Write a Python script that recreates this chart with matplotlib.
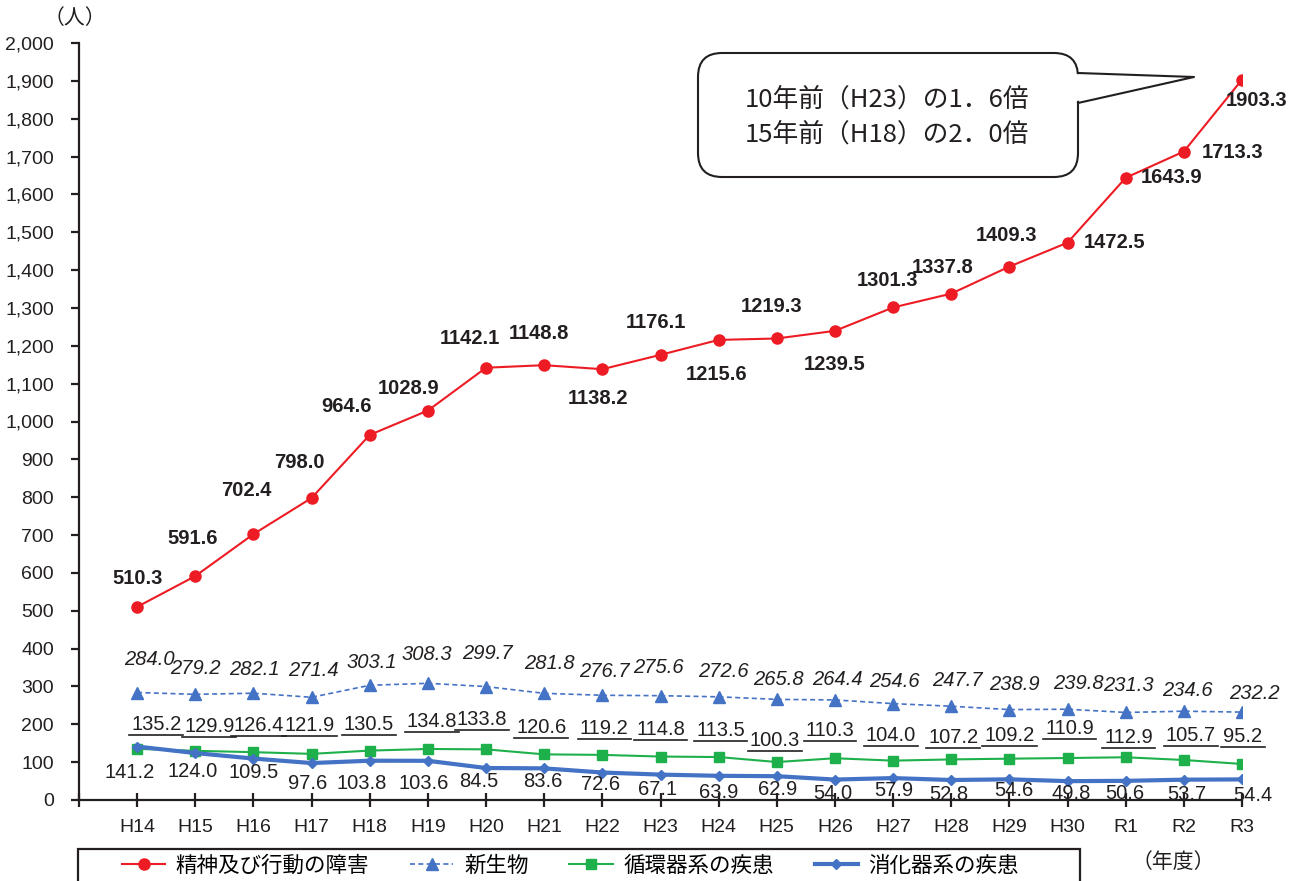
import matplotlib
matplotlib.use('Agg')
import matplotlib.pyplot as plt
from matplotlib.patches import FancyBboxPatch, Polygon, Rectangle
from matplotlib.lines import Line2D
from matplotlib.transforms import IdentityTransform
from matplotlib.ticker import FuncFormatter, FixedLocator

plt.rcParams['font.family'] = ['Liberation Sans', 'Noto Sans CJK JP']

W, H = 1298, 881

years = ['H14', 'H15', 'H16', 'H17', 'H18', 'H19', 'H20', 'H21', 'H22', 'H23',
         'H24', 'H25', 'H26', 'H27', 'H28', 'H29', 'H30', 'R1', 'R2', 'R3']
mental = [510.3, 591.6, 702.4, 798.0, 964.6, 1028.9, 1142.1, 1148.8, 1138.2, 1176.1,
          1215.6, 1219.3, 1239.5, 1301.3, 1337.8, 1409.3, 1472.5, 1643.9, 1713.3, 1903.3]
neoplasm = [284.0, 279.2, 282.1, 271.4, 303.1, 308.3, 299.7, 281.8, 276.7, 275.6,
            272.6, 265.8, 264.4, 254.6, 247.7, 238.9, 239.8, 231.3, 234.6, 232.2]
circulatory = [135.2, 129.9, 126.4, 121.9, 130.5, 134.8, 133.8, 120.6, 119.2, 114.8,
               113.5, 100.3, 110.3, 104.0, 107.2, 109.2, 110.9, 112.9, 105.7, 95.2]
digestive = [141.2, 124.0, 109.5, 97.6, 103.8, 103.6, 84.5, 83.6, 72.6, 67.1,
             63.9, 62.9, 54.0, 57.9, 52.8, 54.6, 49.8, 50.6, 53.7, 54.4]

names = ['精神及び行動の障害', '新生物', '循環器系の疾患', '消化器系の疾患']

# label offsets (pixels, dy up)
mental_off = [(0, 28), (-3, 38), (-7, 44), (-12, 35), (-23, 28), (-19, 22), (-16, 29),
              (-5, 32), (-4, -29), (-5, 32), (-2, -35), (-5, 32), (0, -34), (-6, 27),
              (-9, 26), (-3, 31), (47, 0), (46, 0), (49, -1), (15, -21)]
neo_off = [(12, 33), (0, 26), (1, 24), (2, 27), (2, 23), (-1, 29), (1, 33), (5, 30),
           (2, 24), (-2, 28), (5, 25), (2, 20), (2, 20), (1, 22), (6, 26), (5, 25),
           (11, 26), (3, 27), (4, 21), (12, 19)]
circ_off = [(19, 24), (14, 24), (5, 27), (-2, 28), (-1, 26), (4, 27), (-4, 30), (-3, 27),
            (2, 26), (0, 27), (2, 27), (-2, 22), (-5, 28), (-2, 25), (2, 22), (0, 23),
            (2, 30), (3, 20), (7, 24), (1, 27)]
dig_off = [(-8, -26), (-3, -18), (0, -14), (-4, -20), (-8, -23), (-4, -23), (-7, -13),
           (-1, -13), (-2, -12), (-3, -15), (0, -17), (1, -13), (-2, -14), (1, -12),
           (-2, -14), (4, -11), (4, -12), (-1, -13), (3, -15), (11, -16)]

RED = '#ED1C24'
BLUE = '#4472C4'
GREEN = '#1DB04B'
TXT = '#231F20'
JP = ['Noto Sans CJK JP', 'DejaVu Sans']

fig = plt.figure(figsize=(W / 100, H / 100), dpi=100)
ax = fig.add_axes([79 / W, 1 - 800 / H, (1242 - 79) / W, (800 - 43) / H])

x = list(range(len(years)))
ax.plot(x, mental, color=RED, lw=1.5, marker='o', ms=8, zorder=3)
ax.plot(x, neoplasm, color=BLUE, lw=1.2, ls=(0, (3, 2)), marker='^', ms=9, zorder=3)
ax.plot(x, circulatory, color=GREEN, lw=1.5, marker='s', ms=7.5, zorder=4)
ax.plot(x, digestive, color=BLUE, lw=3, marker='D', ms=5.5, zorder=5)

green_labels = []
for i in x:
    ax.annotate(f'{mental[i]:.1f}', (i, mental[i]), xytext=mental_off[i],
                textcoords='offset pixels', ha='center', va='center',
                fontsize=14.5, fontweight='bold', color=TXT,
                annotation_clip=False, zorder=6)
    ax.annotate(f'{neoplasm[i]:.1f}', (i, neoplasm[i]), xytext=neo_off[i],
                textcoords='offset pixels', ha='center', va='center',
                fontsize=14.5, fontstyle='italic', color=TXT,
                annotation_clip=False, zorder=6)
    t = ax.annotate(f'{circulatory[i]:.1f}', (i, circulatory[i]),
                    xytext=circ_off[i], textcoords='offset pixels', ha='center',
                    va='center', fontsize=14.5, color=TXT, annotation_clip=False,
                    zorder=6)
    green_labels.append(t)
    ax.annotate(f'{digestive[i]:.1f}', (i, digestive[i]), xytext=dig_off[i],
                textcoords='offset pixels', ha='center', va='center',
                fontsize=14.5, color=TXT, annotation_clip=False, zorder=6)

ax.set_xlim(-1, len(years) - 1)
ax.set_ylim(0, 2000)
ax.xaxis.set_major_locator(FixedLocator(list(range(-1, len(years)))))
ax.set_xticklabels([''] + years)
ax.set_yticks(range(0, 2001, 100))
ax.yaxis.set_major_formatter(FuncFormatter(lambda v, p: f'{int(v):,}'))
for s in ['top', 'right']:
    ax.spines[s].set_visible(False)
for s in ['left', 'bottom']:
    ax.spines[s].set_linewidth(1.6)
    ax.spines[s].set_color('#231F20')
ax.tick_params(axis='y', direction='out', length=6, width=1.6, pad=12,
               labelsize=14, colors='#231F20')
ax.tick_params(axis='x', direction='inout', length=10, width=1.6, pad=9,
               labelsize=14, colors='#231F20')

# units
fig.text(75 / W, 1 - 18 / H, '（人）', ha='center', va='center', fontsize=15,
         family=JP, color=TXT)
fig.text(1173 / W, 1 - 862 / H, '（年度）', ha='center', va='center', fontsize=15,
         family=JP, color=TXT)

# legend
handles = [
    Line2D([], [], color=RED, lw=1.5, marker='o', ms=8),
    Line2D([], [], color=BLUE, lw=1.2, ls=(0, (3, 2)), marker='^', ms=9),
    Line2D([], [], color=GREEN, lw=1.5, marker='s', ms=7.5),
    Line2D([], [], color=BLUE, lw=3, marker='D', ms=5.5),
]
fig.legend(handles, names, loc='center left', bbox_to_anchor=(122 / W, 1 - 866 / H),
           ncol=4, frameon=False, borderpad=0, borderaxespad=0,
           handlelength=2.0, handletextpad=0.5, columnspacing=1.9,
           prop={'family': JP, 'size': 15.5})
fig.patches.append(Rectangle((78, -10), 1080 - 78, (H - 849) + 10, fill=False,
                             ec='#231F20', lw=1.6, transform=IdentityTransform(),
                             figure=fig))

# callout
box = FancyBboxPatch((698, H - 177), 1078 - 698, 177 - 53,
                     boxstyle='round,pad=0,rounding_size=24', fc='white',
                     ec='#231F20', lw=1.5, transform=IdentityTransform(), figure=fig)
fig.patches.append(box)
fig.patches.append(Polygon([(1072, H - 74), (1194, H - 77), (1072, H - 102)],
                           closed=True, fc='white', ec='none',
                           transform=IdentityTransform(), figure=fig))
fig.lines.append(Line2D([1078, 1194, 1078], [H - 73, H - 77, H - 103],
                        color='#231F20', lw=1.5, transform=IdentityTransform(),
                        figure=fig))
fig.text(887 / W, 1 - 100 / H, '10年前（H23）の1．6倍', ha='center', va='center',
         fontsize=18.5, family=JP, color=TXT)
fig.text(887 / W, 1 - 135 / H, '15年前（H18）の2．0倍', ha='center', va='center',
         fontsize=18.5, family=JP, color=TXT)

# underline the circulatory labels
fig.canvas.draw()
renderer = fig.canvas.get_renderer()
for t in green_labels:
    bb = t.get_window_extent(renderer)
    fig.lines.append(Line2D([bb.x0 - 2, bb.x1 + 2], [bb.y0 - 1, bb.y0 - 1],
                            color=TXT, lw=1.2, transform=IdentityTransform(),
                            figure=fig))

fig.savefig('out.png', dpi=100, facecolor='white')
